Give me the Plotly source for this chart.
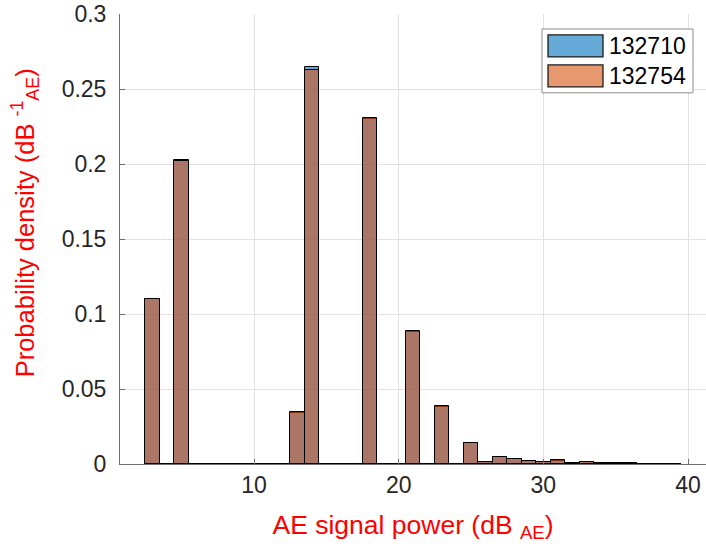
import plotly.graph_objects as go

# Bin centres (dB_AE), bin width 1
bin_centers = list(range(3, 40))
bin_width = 1.0

# Probability density per bin
dens_132710 = [0.1100, 0.0, 0.2025, 0.0, 0.0, 0.0, 0.0, 0.0, 0.0, 0.0,
               0.0338, 0.2645, 0.0, 0.0, 0.0, 0.2298, 0.0, 0.0, 0.0877, 0.0,
               0.0378, 0.0, 0.0137, 0.0015, 0.0049, 0.0031, 0.0021, 0.0016, 0.0023, 0.0008,
               0.0015, 0.0006, 0.0006, 0.0005, 0.0002, 0.0002, 0.0001]
dens_132754 = [0.1100, 0.0, 0.2020, 0.0, 0.0, 0.0, 0.0, 0.0, 0.0, 0.0,
               0.0345, 0.2625, 0.0, 0.0, 0.0, 0.2308, 0.0, 0.0, 0.0885, 0.0,
               0.0385, 0.0, 0.0142, 0.0015, 0.0050, 0.0032, 0.0022, 0.0016, 0.0024, 0.0008,
               0.0015, 0.0006, 0.0006, 0.0005, 0.0002, 0.0002, 0.0001]

series_names = ["132710", "132754"]
fill_colors = ["rgba(0,114,189,0.6)", "rgba(217,83,25,0.6)"]
swatch_colors = ["#66AAD7", "#E8986F"]

x_ticks = [10, 20, 30, 40]
y_ticks = [0, 0.05, 0.1, 0.15, 0.2, 0.25, 0.3]
y_tick_text = ["0", "0.05", "0.1", "0.15", "0.2", "0.25", "0.3"]

FONT = "Liberation Sans, Arial, sans-serif"
AXIS_GRAY = "#6e6e6e"

fig = go.Figure()

# baseline outline of the histogram (edges of empty bins)
edge_lo = bin_centers[0] - bin_width / 2
edge_hi = bin_centers[-1] + bin_width / 2
fig.add_trace(go.Scatter(x=[edge_lo, edge_hi], y=[0, 0], mode="lines",
                         line=dict(color="black", width=1.2),
                         showlegend=False, hoverinfo="skip"))

for name, dens, col in zip(series_names, [dens_132710, dens_132754], fill_colors):
    fig.add_trace(go.Bar(
        x=bin_centers, y=dens, width=bin_width, name=name,
        marker=dict(color=col, line=dict(color="black", width=1)),
        showlegend=False,
    ))

# custom legend (MATLAB-style)
lx0, lx1, ly0, ly1 = 0.7201, 0.9778, 0.8248, 0.9667
fig.add_shape(type="rect", xref="paper", yref="paper", x0=lx0, x1=lx1, y0=ly0, y1=ly1,
              fillcolor="white", line=dict(color="#8c8c8c", width=1), layer="above")
sw_rows = [(0.9047, 0.9534, 0.929), (0.8381, 0.8869, 0.8625)]
for (y0, y1, yc), name, sc in zip(sw_rows, series_names, swatch_colors):
    fig.add_shape(type="rect", xref="paper", yref="paper", x0=0.7304, x1=0.8242,
                  y0=y0, y1=y1, fillcolor=sc, line=dict(color="#1a1a1a", width=1.3),
                  layer="above")
    fig.add_annotation(xref="paper", yref="paper", x=0.8310, y=yc, text=name,
                       showarrow=False, xanchor="left", yanchor="middle",
                       font=dict(family=FONT, size=23, color="black"))

# y-axis title
fig.add_annotation(xref="paper", yref="paper", x=-0.162, y=0.535,
                   text="Probability density (dB <sup>-1</sup><sub>AE</sub>)",
                   textangle=-90, showarrow=False, xanchor="center", yanchor="middle",
                   font=dict(family=FONT, size=25.5, color="#ff0000"))

fig.update_layout(
    width=706, height=551,
    margin=dict(l=120, r=0, t=14, b=87),
    paper_bgcolor="white", plot_bgcolor="white",
    barmode="overlay", bargap=0,
    font=dict(family=FONT, size=23, color="#262626"),
)
fig.update_xaxes(
    range=[0.738, 41.24], tickvals=x_ticks, ticktext=[str(v) for v in x_ticks],
    showgrid=True, gridcolor="#e2e2e2", gridwidth=1,
    showline=True, linecolor=AXIS_GRAY, linewidth=1,
    ticks="inside", ticklen=5, tickcolor=AXIS_GRAY,
    zeroline=False,
    tickfont=dict(family=FONT, size=23, color="#262626"),
    title=dict(text="AE signal power (dB <sub>AE</sub>)",
               font=dict(family=FONT, size=26.5, color="#ff0000"), standoff=18),
)
fig.update_yaxes(
    range=[0, 0.3], tickvals=y_ticks, ticktext=y_tick_text,
    showgrid=True, gridcolor="#e2e2e2", gridwidth=1,
    showline=True, linecolor=AXIS_GRAY, linewidth=1,
    ticks="inside", ticklen=5, tickcolor=AXIS_GRAY,
    zeroline=False, ticklabelstandoff=8,
    tickfont=dict(family=FONT, size=23, color="#262626"),
)

fig.write_html("out.html")
